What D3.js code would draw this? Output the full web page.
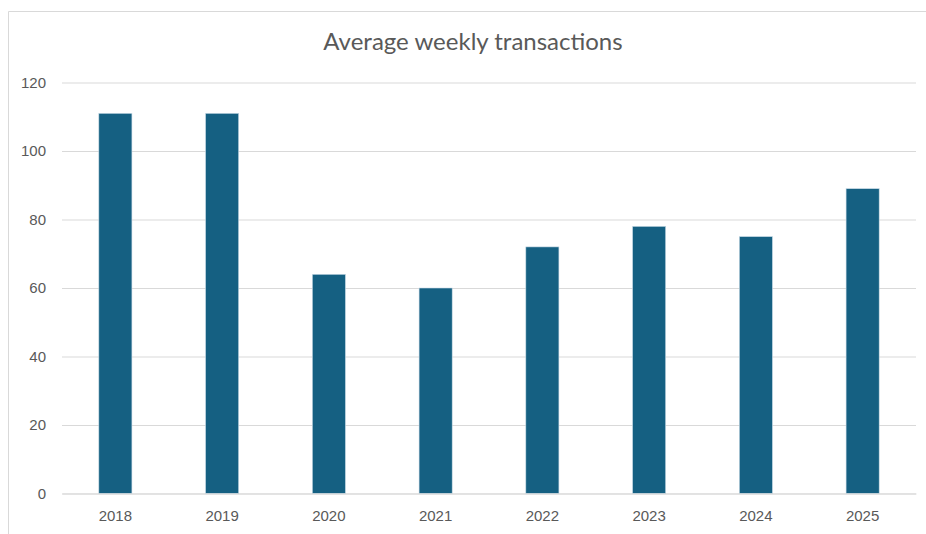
<!DOCTYPE html>
<html>
<head>
<meta charset="utf-8">
<script src="https://cdn.jsdelivr.net/npm/d3@7"></script>
<style>
  body { margin: 0; background: #fff; }
  svg { display: block; }
</style>
</head>
<body>
<script>
// chart values
var years = ["2018", "2019", "2020", "2021", "2022", "2023", "2024", "2025"];
var transactions = [111, 111, 64, 60, 72, 78, 75, 89];
var yTicks = [0, 20, 40, 60, 80, 100, 120];
var chartTitle = "Average weekly transactions";

var W = 926, H = 534;
var margin = {top: 82.5, right: 10, bottom: 40.5, left: 62};
var width = 916 - margin.left,
    height = 493.5 - margin.top;

var svg = d3.select("body").append("svg").attr("width", W).attr("height", H);

// outer chart frame (runs off the right and bottom edges)
svg.append("path")
  .attr("d", "M8.5," + H + "V11.5H" + W)
  .attr("fill", "none")
  .attr("stroke", "#d9d9d9")
  .attr("stroke-width", 1);

svg.append("text")
  .attr("x", 473)
  .attr("y", 50)
  .attr("text-anchor", "middle")
  .attr("font-family", "Lato, 'Open Sans', sans-serif")
  .attr("font-size", 24)
  .attr("fill", "#595959")
  .text(chartTitle);

var g = svg.append("g").attr("transform", "translate(" + margin.left + "," + margin.top + ")");

var x = d3.scaleBand().domain(years).range([0, width]).paddingInner(0.69).paddingOuter(0.345);
var y = d3.scaleLinear().domain([0, 120]).range([height, 0]);

// gridlines + y labels
var yAxis = d3.axisLeft(y).tickValues(yTicks).tickSize(-width).tickPadding(16);
g.append("g")
  .attr("class", "yaxis")
  .call(yAxis)
  .call(function(s) {
    s.select(".domain").remove();
    s.selectAll(".tick line").attr("stroke", "#d9d9d9").attr("stroke-width", 1);
    s.selectAll(".tick text")
      .attr("fill", "#595959")
      .attr("font-family", "'Liberation Sans', Arial, sans-serif")
      .attr("font-size", 15);
  });

// bars
g.selectAll(".bar")
  .data(transactions)
  .enter()
  .append("rect")
  .attr("class", "bar")
  .attr("x", function(d, i) { return x(years[i]); })
  .attr("y", function(d) { return y(d); })
  .attr("width", x.bandwidth())
  .attr("height", function(d) { return height - y(d); })
  .attr("fill", "#156082")
  .attr("stroke", "#c9dbe6")
  .attr("stroke-width", 0.6);

// x labels
var xAxis = d3.axisBottom(x).tickSize(0).tickPadding(17);
g.append("g")
  .attr("class", "xaxis")
  .attr("transform", "translate(0," + height + ")")
  .call(xAxis)
  .call(function(s) {
    s.select(".domain").attr("stroke", "#d9d9d9");
    s.selectAll(".tick text")
      .attr("fill", "#595959")
      .attr("font-family", "'Liberation Sans', Arial, sans-serif")
      .attr("font-size", 15);
  });
</script>
</body>
</html>
